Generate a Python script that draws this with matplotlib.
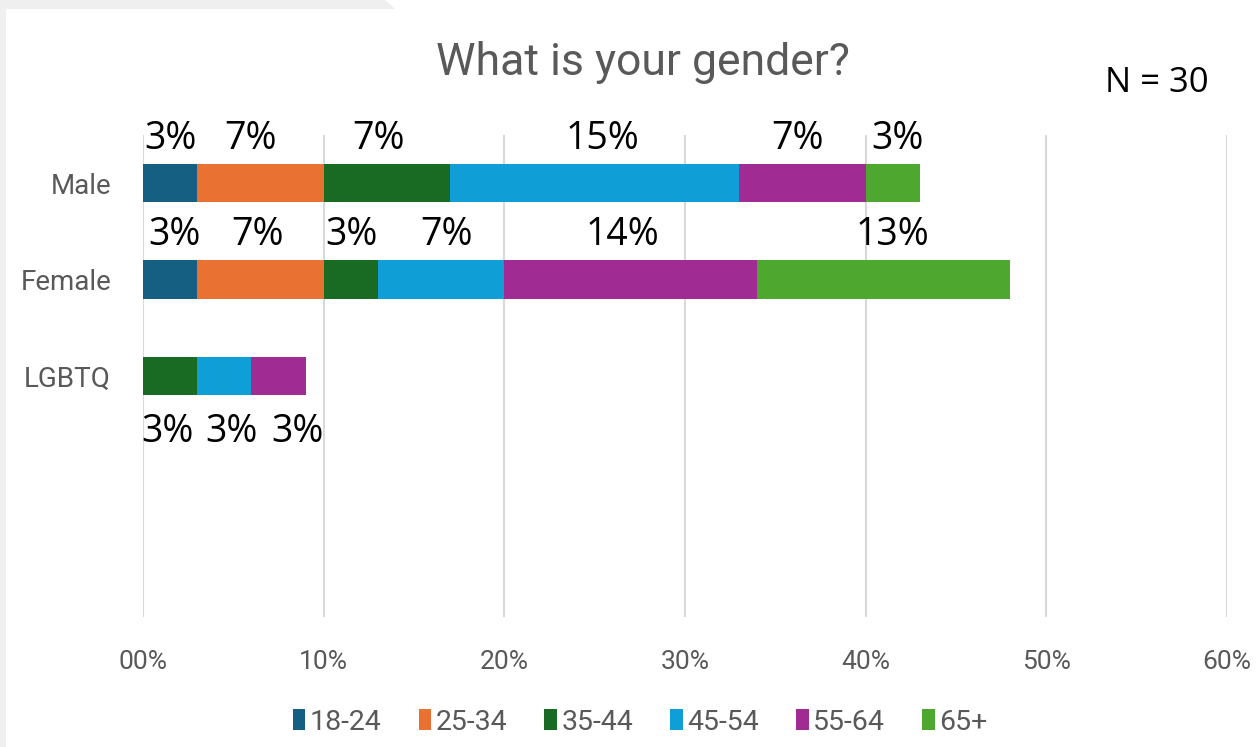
import matplotlib
matplotlib.use("Agg")
import matplotlib.pyplot as plt
from matplotlib.patches import Patch, Rectangle, Polygon
import numpy as np

# data
GENDERS = ["Male", "Female", "LGBTQ"]
AGES = ["18-24", "25-34", "35-44", "45-54", "55-64", "65+"]
# segment lengths (percent) per age group, one list per gender
MALE = [3, 7, 7, 16, 7, 3]
FEMALE = [3, 7, 3, 7, 14, 14]
LGBTQ = [0, 0, 3, 3, 3, 0]
# printed data labels (as shown in the reference)
MALE_LBL = ["3%", "7%", "7%", "15%", "7%", "3%"]
FEMALE_LBL = ["3%", "7%", "3%", "7%", "14%", "13%"]
LGBTQ_LBL = ["", "", "3%", "3%", "3%", ""]
XTICKS = [0, 10, 20, 30, 40, 50, 60]
XTICK_LBL = ["00%", "10%", "20%", "30%", "40%", "50%", "60%"]

# hand-placed label nudges (px) as in the reference, per gender row
NUDGE = [
    [0, -10, -8, 8, -5, 5],
    [4, -3, 1, 5, -8, 9],
    [0, 0, -3, 7, 19, 0],
]

COLORS = ["#156082", "#E97132", "#196B24", "#0F9ED5", "#A02B93", "#4EA72E"]
GRAY = "#595959"
GRID = "#D9D9D9"
NARROW = ["Liberation Sans Narrow", "Roboto", "DejaVu Sans"]
LABEL_FONT = ["Open Sans", "DejaVu Sans"]

W, H = 1259, 747
fig = plt.figure(figsize=(W / 100, H / 100), dpi=100)
fig.patch.set_facecolor("white")

# screenshot frame remnants (top-left)
fig.patches.append(Polygon([[0, 1], [385 / W, 1], [395 / W, 1 - 9 / H], [0, 1 - 9 / H]],
                           closed=True, transform=fig.transFigure,
                           facecolor="#EFEFEF", edgecolor="none"))
fig.patches.append(Rectangle((0, 0), 6 / W, 1, transform=fig.transFigure,
                             facecolor="#EFEFEF", edgecolor="none"))

ax = fig.add_axes([143 / W, 1 - 617 / H, (1227 - 143) / W, (617 - 135) / H])

rows = [MALE, FEMALE, LGBTQ]
labels = [MALE_LBL, FEMALE_LBL, LGBTQ_LBL]
ypos = np.arange(len(GENDERS))
bar_h = 0.40

left = np.zeros(len(GENDERS))
data = np.array(rows, dtype=float)
for j, age in enumerate(AGES):
    ax.barh(ypos, data[:, j], left=left, height=bar_h, color=COLORS[j],
            edgecolor="none", zorder=3)
    for i in range(len(GENDERS)):
        txt = labels[i][j]
        if txt:
            xc = left[i] + data[i, j] / 2
            # Male/Female labels sit above their bar, LGBTQ below
            dy = 0.58 if i == 2 else -0.46
            ax.annotate(txt, (xc, ypos[i] + dy), xytext=(NUDGE[i][j] * 0.72, 0),
                        textcoords="offset points", ha="center", va="center",
                        fontsize=27, color="black", family=LABEL_FONT)
    left += data[:, j]

ax.set_xlim(0, 60)
ax.set_ylim(4.5, -0.5)
ax.set_xticks(XTICKS)
ax.set_xticklabels(XTICK_LBL, family=NARROW, fontsize=19, color=GRAY)
ax.set_yticks(ypos)
ax.set_yticklabels(GENDERS, family=NARROW, fontsize=20, color=GRAY)
ax.tick_params(axis="x", length=0, pad=24)
ax.tick_params(axis="y", length=0, pad=23)
ax.grid(axis="x", color=GRID, linewidth=1.5, zorder=0)
ax.set_axisbelow(True)
for s in ax.spines.values():
    s.set_visible(False)

fig.text(643 / W, 1 - 62 / H, "What is your gender?", ha="center", va="center",
         fontsize=32, color=GRAY, family=NARROW)
fig.text(1105 / W, 1 - 83 / H, "N = 30", ha="left", va="center",
         fontsize=25, color="black", family=LABEL_FONT)

handles = [Patch(facecolor=c, edgecolor="none") for c in COLORS]
fig.legend(handles, AGES, loc="center", bbox_to_anchor=(640 / W, 1 - 722 / H),
           ncol=6, frameon=False, handlelength=0.45, handleheight=0.8,
           handletextpad=0.15, columnspacing=1.3,
           prop={"family": NARROW, "size": 20.5}, labelcolor=GRAY)

fig.savefig("out.png", dpi=100)
